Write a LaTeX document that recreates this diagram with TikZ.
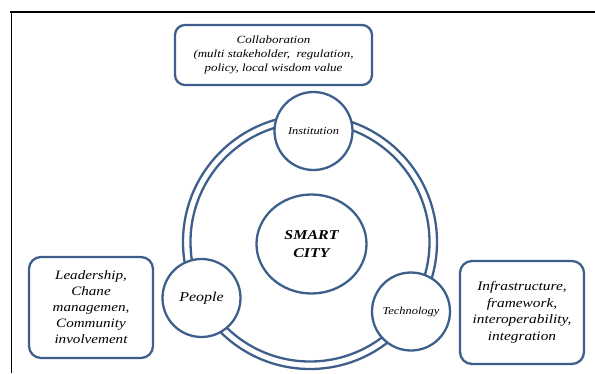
\documentclass[tikz,border=0pt]{standalone}
\usepackage{fontspec}
\setmainfont{Liberation Serif}[FakeStretch=1.18]
\usetikzlibrary{shapes.geometric}
\definecolor{ringblue}{HTML}{3E5F8C}
\begin{document}
\begin{tikzpicture}[x=1pt,y=-1pt,
  ring/.style={draw=ringblue,line width=2.3pt},
  bub/.style={circle,draw=ringblue,line width=2.3pt,fill=white,minimum size=78pt,inner sep=0pt,align=center,font=\itshape},
  infobox/.style={draw=ringblue,line width=2.3pt,rounded corners=10pt,fill=white,align=center,font=\itshape,inner sep=0pt}]
\useasboundingbox (0,0) rectangle (595,373);
\draw[line width=1.6pt] (10,12) -- (595,12);
\draw[line width=1.6pt] (11.5,12) -- (11.5,373);
% ring
\draw[ring] (310,242) circle (127);
\draw[ring] (310,242) circle (119.5);
% centre
\node[ellipse,draw=ringblue,line width=2.3pt,minimum width=110pt,minimum height=99pt,inner sep=0pt,align=center,font=\bfseries\itshape\fontsize{13.5}{18.5}\selectfont] (sc) at (311.5,244) {SMART\\CITY};
\node[bub,font=\itshape\fontsize{10.5}{12}\selectfont] (inst) at (313.5,131) {Institution};
\node[bub,font=\itshape\fontsize{13.5}{15}\selectfont] (people) at (201.5,298) {People};
\node[bub,font=\itshape\fontsize{10.5}{12}\selectfont] (tech) at (411,311.5) {Technology};
% boxes
\node[infobox,minimum width=197pt,minimum height=60pt,font=\itshape\fontsize{11}{14}\selectfont] (collab) at (273.5,55) {Collaboration\\(multi stakeholder,~~regulation,\\policy, local wisdom~value};
\node[infobox,minimum width=124pt,minimum height=101pt,rounded corners=12pt,font=\itshape\fontsize{12.8}{16}\selectfont] (lead) at (91,307.5) {Leadership,\\Chane\\managemen,\\Community\\involvement};
\node[infobox,minimum width=124pt,minimum height=103pt,rounded corners=12pt,font=\itshape\fontsize{13}{16.5}\selectfont] (infra) at (522,312.5) {Infrastructure,\\framework,\\interoperability,\\integration};
\end{tikzpicture}
\end{document}
